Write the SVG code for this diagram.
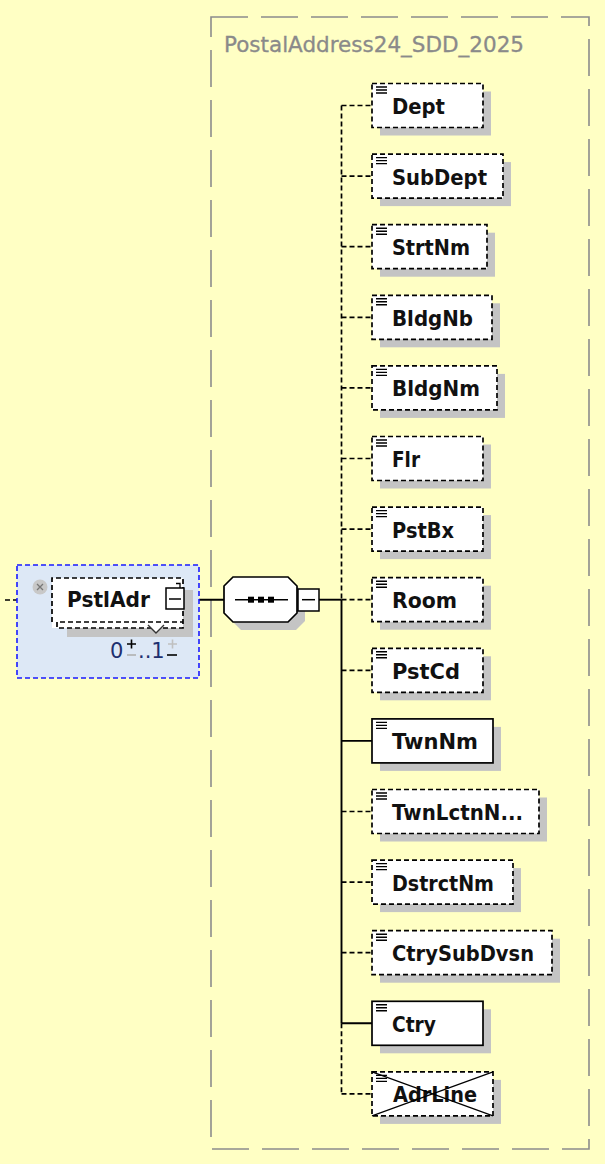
<svg xmlns="http://www.w3.org/2000/svg" width="605" height="1164" viewBox="0 0 605 1164">
<style>
.lbl{font-family:"DejaVu Sans","Liberation Sans",sans-serif;font-weight:bold;font-size:22px;fill:#111}
.box{fill:#fff;stroke:#000;stroke-width:1.7}
.opt{stroke-dasharray:5,3}
.sh{fill:#c4c4c4}
.dash{fill:none;stroke:#000;stroke-width:1.7;stroke-dasharray:5,3}
.solid{fill:none;stroke:#000;stroke-width:1.9}
.ico{stroke:#000;stroke-width:1.4}
</style>
<defs>
<g id="icon"><path class="ico" d="M4 3.5H15M4 6.5H15M4 9.5H15"/></g>
</defs>
<rect width="605" height="1164" fill="#ffffc4"/>
<g id="group-box">
<rect x="211" y="17" width="378" height="1132" fill="none" stroke="#8c8c8c" stroke-width="1.6" stroke-dasharray="37,13"/>
<text x="224" y="52" font-family="DejaVu Sans, Liberation Sans, sans-serif" font-size="21" fill="#8a8a8a" stroke="#8a8a8a" stroke-width="0.3" textLength="300" lengthAdjust="spacingAndGlyphs">PostalAddress24_SDD_2025</text>
</g>
<g id="connectors">
<path class="dash" d="M5 600H52"/>
<path class="solid" d="M184 599.7H224"/>
<path class="solid" d="M319 599.7H341.5"/>
<path class="dash" d="M341.5 105.5V599.7"/>
<path class="solid" d="M341.5 599.7V1023.3"/>
<path class="dash" d="M341.5 1023.3V1093.9"/>
<path class="dash" d="M341.5 105.5H372M341.5 176.1H372M341.5 246.7H372M341.5 317.3H372M341.5 387.9H372M341.5 458.5H372M341.5 529.1H372M341.5 599.7H372M341.5 670.3H372M341.5 811.5H372M341.5 882.1H372M341.5 952.7H372M341.5 1093.9H372"/>
<path class="solid" d="M341.5 740.9H372M341.5 1023.3H372"/>
</g>
<g id="PstlAdr">
<rect x="17" y="565" width="182" height="113" fill="#dde8f6" stroke="#1a1aff" stroke-width="1.6" stroke-dasharray="5,3"/>
<rect x="67" y="590" width="126" height="47" class="sh"/>
<rect x="52" y="578" width="131" height="50" fill="#fff"/>
<path class="dash" d="M52 622V578H183V628H57V622H183"/>
<path d="M148 625L156 633L164 625" fill="#fff" stroke="#333" stroke-width="1.4"/>
<circle cx="40" cy="587" r="7.5" fill="#c8c8c8"/>
<path d="M37 584L43 590M43 584L37 590" stroke="#777" stroke-width="1.3"/>
<text class="lbl" x="67" y="607" textLength="83" lengthAdjust="spacingAndGlyphs">PstlAdr</text>
<rect x="166" y="588" width="18" height="21" fill="#fff" stroke="#000" stroke-width="1.5"/>
<path d="M169 599H181" stroke="#000" stroke-width="1.5"/>
<path d="M176 583.5H180V588" fill="none" stroke="#000" stroke-width="1.3"/>
<g font-family="DejaVu Sans, Liberation Sans, sans-serif" font-size="21" fill="#1e3070">
<text x="110" y="658">0</text>
<text x="138" y="658">..1</text>
</g>
<path d="M127 644H136M131.5 639.5V648.5" stroke="#000" stroke-width="1.6"/>
<path d="M127 655H136" stroke="#b0b0b0" stroke-width="1.6"/>
<path d="M168 644H177M172.5 639.5V648.5" stroke="#c0c0c0" stroke-width="1.6"/>
<path d="M167 655H177" stroke="#000" stroke-width="1.6"/>
</g>
<g id="sequence">
<polygon points="241,585 296,585 305,594 305,621 296,630 241,630 232,621 232,594" class="sh"/>
<polygon points="233,577 288,577 297,586 297,613 288,622 233,622 224,613 224,586" fill="#fff" stroke="#000" stroke-width="1.7"/>
<path d="M235 599.7H288" stroke="#000" stroke-width="1.6"/>
<rect x="248" y="596.7" width="6" height="6"/>
<rect x="258" y="596.7" width="6" height="6"/>
<rect x="268" y="596.7" width="6" height="6"/>
<rect x="298" y="589" width="21" height="22" fill="#fff" stroke="#000" stroke-width="1.5"/>
<path d="M302 599.7H315" stroke="#000" stroke-width="1.5"/>
</g>
<g id="Dept"><rect class="sh" x="380" y="91.5" width="111" height="44"/><rect class="box opt" x="372" y="83.5" width="111" height="44"/><use href="#icon" x="372" y="83.5"/><text class="lbl" x="392" y="114" textLength="53" lengthAdjust="spacingAndGlyphs">Dept</text></g>
<g id="SubDept"><rect class="sh" x="380" y="162.1" width="131" height="44"/><rect class="box opt" x="372" y="154.1" width="131" height="44"/><use href="#icon" x="372" y="154.1"/><text class="lbl" x="392" y="184.6" textLength="95" lengthAdjust="spacingAndGlyphs">SubDept</text></g>
<g id="StrtNm"><rect class="sh" x="380" y="232.7" width="115" height="44"/><rect class="box opt" x="372" y="224.7" width="115" height="44"/><use href="#icon" x="372" y="224.7"/><text class="lbl" x="392" y="255.2" textLength="78" lengthAdjust="spacingAndGlyphs">StrtNm</text></g>
<g id="BldgNb"><rect class="sh" x="380" y="303.3" width="120" height="44"/><rect class="box opt" x="372" y="295.3" width="120" height="44"/><use href="#icon" x="372" y="295.3"/><text class="lbl" x="392" y="325.8" textLength="81" lengthAdjust="spacingAndGlyphs">BldgNb</text></g>
<g id="BldgNm"><rect class="sh" x="380" y="373.9" width="125" height="44"/><rect class="box opt" x="372" y="365.9" width="125" height="44"/><use href="#icon" x="372" y="365.9"/><text class="lbl" x="392" y="396.4" textLength="88" lengthAdjust="spacingAndGlyphs">BldgNm</text></g>
<g id="Flr"><rect class="sh" x="380" y="444.5" width="111" height="44"/><rect class="box opt" x="372" y="436.5" width="111" height="44"/><use href="#icon" x="372" y="436.5"/><text class="lbl" x="392" y="467" textLength="28" lengthAdjust="spacingAndGlyphs">Flr</text></g>
<g id="PstBx"><rect class="sh" x="380" y="515.1" width="111" height="44"/><rect class="box opt" x="372" y="507.1" width="111" height="44"/><use href="#icon" x="372" y="507.1"/><text class="lbl" x="392" y="537.6" textLength="62" lengthAdjust="spacingAndGlyphs">PstBx</text></g>
<g id="Room"><rect class="sh" x="380" y="585.7" width="111" height="44"/><rect class="box opt" x="372" y="577.7" width="111" height="44"/><use href="#icon" x="372" y="577.7"/><text class="lbl" x="392" y="608.2" textLength="65" lengthAdjust="spacingAndGlyphs">Room</text></g>
<g id="PstCd"><rect class="sh" x="380" y="656.3" width="111" height="44"/><rect class="box opt" x="372" y="648.3" width="111" height="44"/><use href="#icon" x="372" y="648.3"/><text class="lbl" x="392" y="678.8" textLength="68" lengthAdjust="spacingAndGlyphs">PstCd</text></g>
<g id="TwnNm"><rect class="sh" x="380" y="726.9" width="121" height="44"/><rect class="box" x="372" y="718.9" width="121" height="44"/><use href="#icon" x="372" y="718.9"/><text class="lbl" x="392" y="749.4" textLength="86" lengthAdjust="spacingAndGlyphs">TwnNm</text></g>
<g id="TwnLctnNm"><rect class="sh" x="380" y="797.5" width="167" height="44"/><rect class="box opt" x="372" y="789.5" width="167" height="44"/><use href="#icon" x="372" y="789.5"/><text class="lbl" x="392" y="820" textLength="131" lengthAdjust="spacingAndGlyphs">TwnLctnN...</text></g>
<g id="DstrctNm"><rect class="sh" x="380" y="868.1" width="141" height="44"/><rect class="box opt" x="372" y="860.1" width="141" height="44"/><use href="#icon" x="372" y="860.1"/><text class="lbl" x="392" y="890.6" textLength="102" lengthAdjust="spacingAndGlyphs">DstrctNm</text></g>
<g id="CtrySubDvsn"><rect class="sh" x="380" y="938.7" width="180" height="44"/><rect class="box opt" x="372" y="930.7" width="180" height="44"/><use href="#icon" x="372" y="930.7"/><text class="lbl" x="392" y="961.2" textLength="142" lengthAdjust="spacingAndGlyphs">CtrySubDvsn</text></g>
<g id="Ctry"><rect class="sh" x="380" y="1009.3" width="111" height="44"/><rect class="box" x="372" y="1001.3" width="111" height="44"/><use href="#icon" x="372" y="1001.3"/><text class="lbl" x="392" y="1031.8" textLength="44" lengthAdjust="spacingAndGlyphs">Ctry</text></g>
<g id="AdrLine"><rect class="sh" x="380" y="1079.9" width="121" height="44"/><rect class="box opt" x="372" y="1071.9" width="121" height="44"/><use href="#icon" x="372" y="1071.9"/><text class="lbl" x="393" y="1102.4" textLength="84" lengthAdjust="spacingAndGlyphs">AdrLine</text><path d="M372 1071.9L493 1115.9M372 1115.9L493 1071.9" stroke="#000" stroke-width="1.2"/></g>
</svg>
